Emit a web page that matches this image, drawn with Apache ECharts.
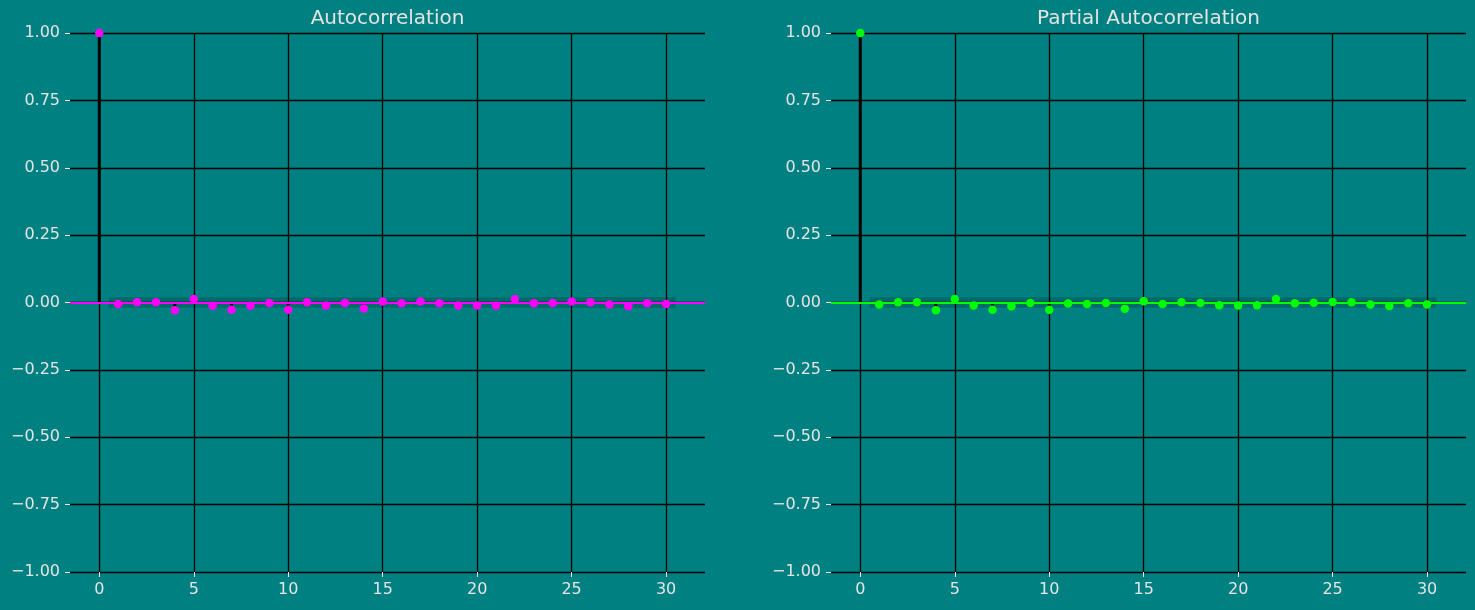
<!DOCTYPE html>
<html>
<head>
<meta charset="utf-8">
<script src="https://cdn.jsdelivr.net/npm/echarts@6/dist/echarts.min.js"></script>
<style>
html,body{margin:0;padding:0;background:#008080;}
#chart{width:1475px;height:610px;}
</style>
</head>
<body>
<div id="chart"></div>
<script>
// ---- data ----
const lags = [0,1,2,3,4,5,6,7,8,9,10,11,12,13,14,15,16,17,18,19,20,21,22,23,24,25,26,27,28,29,30];
const acfValues = [1.0,-0.006,0.001,0.001,-0.029,0.013,-0.012,-0.027,-0.012,-0.002,-0.027,0.001,-0.011,-0.002,-0.022,0.004,-0.003,0.004,-0.003,-0.011,-0.011,-0.011,0.013,-0.003,-0.002,0.004,0.001,-0.007,-0.014,-0.003,-0.006];
const pacfValues = [1.0,-0.007,0.001,0.001,-0.029,0.013,-0.011,-0.027,-0.014,-0.002,-0.027,-0.004,-0.006,-0.002,-0.023,0.005,-0.006,0.001,-0.002,-0.010,-0.011,-0.010,0.013,-0.003,-0.001,0.002,0.001,-0.007,-0.013,-0.003,-0.007];
// confidence half-widths for lags 1..30
const acfConf = [0.0196,0.0196,0.0196,0.0196,0.0197,0.0197,0.0197,0.0197,0.0198,0.0198,0.0198,0.0198,0.0198,0.0198,0.0198,0.0199,0.0199,0.0199,0.0199,0.0199,0.0199,0.0199,0.0199,0.0200,0.0200,0.0200,0.0200,0.0200,0.0200,0.0200];
const pacfConf = [0.0196,0.0196,0.0196,0.0196,0.0196,0.0196,0.0196,0.0196,0.0196,0.0196,0.0196,0.0196,0.0196,0.0196,0.0196,0.0196,0.0196,0.0196,0.0196,0.0196,0.0196,0.0196,0.0196,0.0196,0.0196,0.0196,0.0196,0.0196,0.0196,0.0196];
const xTicks = [0,5,10,15,20,25,30];
const titles = ['Autocorrelation','Partial Autocorrelation'];
const markerColors = ['#ff00ff','#00ff00'];

const txt = '#e4e4e4';
const font = 'DejaVu Sans';

function bandData(conf){
  return conf.map((c,i)=>{
    let x = lags[i+1];
    if(i===0) x -= 0.5;
    if(i===conf.length-1) x += 0.5;
    return [x, -c, c];
  });
}

const grids = [
  {left:70, top:33, width:635, height:539},
  {left:831, top:33, width:635, height:539}
];
const xAxes = [], yAxes = [], series = [], titleArr = [];
[acfValues, pacfValues].forEach((vals, k)=>{
  const conf = k===0 ? acfConf : pacfConf;
  xAxes.push({
    type:'value', gridIndex:k, min:-1.55, max:32.06,
    axisLine:{show:false, onZero:false},
    splitLine:{show:false},
    axisTick:{show:true, customValues:xTicks, length:5, lineStyle:{color:txt, width:1}},
    axisLabel:{customValues:xTicks, color:txt, fontFamily:font, fontSize:16, margin:10}
  });
  yAxes.push({
    type:'value', gridIndex:k, min:-1, max:1, interval:0.25,
    axisLine:{show:false, onZero:false},
    axisTick:{show:true, length:5, lineStyle:{color:txt}},
    splitLine:{show:true, lineStyle:{color:'#000', width:1.3}},
    axisLabel:{color:txt, fontFamily:font, fontSize:16, margin:10,
      formatter:v=>(v<0?'\u2212':'')+Math.abs(v).toFixed(2)}
  });
  titleArr.push({
    text:titles[k], left: grids[k].left + grids[k].width/2 - 5, top:4, textAlign:'center',
    textStyle:{color:txt, fontFamily:font, fontSize:20, fontWeight:'normal'}
  });
  // vertical grid lines
  series.push({
    type:'line', xAxisIndex:k, yAxisIndex:k, data:[], silent:true, z:1,
    markLine:{silent:true, symbol:'none', label:{show:false},
      lineStyle:{color:'#000', width:1.3, type:'solid'},
      data: xTicks.map(v=>({xAxis:v}))}
  });
  // confidence band (polygon through all band points)
  const band = bandData(conf);
  series.push({
    type:'custom', xAxisIndex:k, yAxisIndex:k, silent:true, z:2,
    data: band,
    encode:{x:0, y:[1,2]},
    renderItem:(params, api)=>{
      if(params.dataIndex !== 0) return null;
      const upper = band.map(d=>api.coord([d[0], d[2]]));
      const lower = band.map(d=>api.coord([d[0], d[1]])).reverse();
      return {type:'polygon', shape:{points: upper.concat(lower)},
        style:{fill:'rgba(0,0,0,0.17)'}};
    }
  });
  // stems
  series.push({
    type:'bar', xAxisIndex:k, yAxisIndex:k, barWidth:3, z:3, silent:true,
    itemStyle:{color:'#000'},
    data: lags.map((l,i)=>[l, vals[i]])
  });
  // zero line
  series.push({
    type:'line', xAxisIndex:k, yAxisIndex:k, data:[], silent:true, z:4,
    markLine:{silent:true, symbol:'none', label:{show:false},
      lineStyle:{color:markerColors[k], width:2, type:'solid'},
      data:[{yAxis:0}]}
  });
  // markers
  series.push({
    type:'scatter', xAxisIndex:k, yAxisIndex:k, z:5, symbolSize:8.5,
    itemStyle:{color:markerColors[k], opacity:1},
    data: lags.map((l,i)=>[l, vals[i]])
  });
});

const chart = echarts.init(document.getElementById('chart'), null, {renderer:'canvas'});
chart.setOption({
  backgroundColor:'#008080',
  animation:false,
  title:titleArr,
  grid:grids,
  xAxis:xAxes,
  yAxis:yAxes,
  series:series
});
</script>
</body>
</html>
